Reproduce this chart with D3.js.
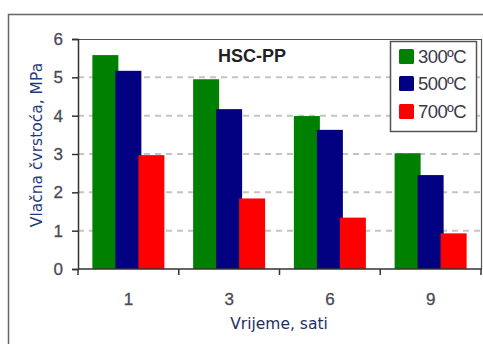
<!DOCTYPE html>
<html><head><meta charset="utf-8">
<script src="https://cdn.jsdelivr.net/npm/d3@7"></script>
<style>body{margin:0;background:#fff}svg{display:block}</style>
</head><body><svg id="c" width="483" height="344"></svg>
<script>
const categories = ["1", "3", "6", "9"];
const seriesNames = ["300ºC", "500ºC", "700ºC"];
const s300 = [5.58, 4.95, 3.99, 3.02];
const s500 = [5.17, 4.17, 3.63, 2.45];
const s700 = [2.97, 1.84, 1.34, 0.93];
const yTicks = [0, 1, 2, 3, 4, 5, 6];
const colors = ["#008000", "#000080", "#ff0000"];
const series = [s300, s500, s700];

const svg = d3.select("#c");
const m = {l: 78, t: 39, r: 481, b: 269};
const x = d3.scaleBand().domain(categories).range([m.l, m.r]).padding(0);
const y = d3.scaleLinear().domain([0, 6]).range([m.b, m.t]);

// outer frame
svg.append("rect").attr("x", 8.5).attr("y", 14.5).attr("width", 500).attr("height", 400)
  .attr("fill", "none").attr("stroke", "#666").attr("stroke-width", 1.5);

// gridlines
svg.append("g").selectAll("line").data(yTicks.filter(d => d > 0 && d < 6)).join("line")
  .attr("x1", m.l).attr("x2", m.r).attr("y1", d => y(d)).attr("y2", d => y(d))
  .attr("stroke", "#c4c4c4").attr("stroke-width", 2).attr("stroke-dasharray", "6,5");

// plot border top/right
svg.append("path").attr("d", `M${m.l},${m.t+0.5}H${m.r+0.5}V${m.b}`)
  .attr("fill", "none").attr("stroke", "#555").attr("stroke-width", 1.2);

// bars
const step = 23, bw = 26;
series.forEach((s, i) => {
  svg.append("g").selectAll("rect").data(s).join("rect")
    .attr("x", (d, j) => x(categories[j]) + x.bandwidth()/2 + (i-1)*step - bw/2)
    .attr("width", bw)
    .attr("y", d => y(d)).attr("height", d => y(0) - y(d))
    .attr("fill", colors[i]);
});

// y axis
const ya = d3.axisLeft(y).tickValues(yTicks).tickSize(6).tickPadding(9).tickFormat(d3.format("d"));
const gy = svg.append("g").attr("transform", `translate(${m.l},0)`).call(ya);
gy.select(".domain").attr("stroke", "#333").attr("stroke-width", 1.5);
gy.selectAll(".tick line").attr("stroke", "#333").attr("stroke-width", 1.5);
gy.selectAll("text").attr("font-family", "Liberation Sans, Arial, sans-serif").attr("font-size", 17)
  .attr("fill", "#4a4a58").attr("stroke", "#4a4a58").attr("stroke-width", 0.3);

// x axis
const xa = d3.axisBottom(x).tickSize(0).tickPadding(0);
const gx = svg.append("g").attr("transform", `translate(0,${m.b})`).call(xa);
gx.select(".domain").remove();
gx.append("line").attr("x1", m.l).attr("x2", m.r+1).attr("stroke", "#333").attr("stroke-width", 1.5);
gx.selectAll(".bound").data(d3.range(categories.length+1)).join("line")
  .attr("x1", d => m.l + d*x.bandwidth()).attr("x2", d => m.l + d*x.bandwidth())
  .attr("y1", 0).attr("y2", 6).attr("stroke", "#333").attr("stroke-width", 1.5);
gx.selectAll(".tick text").attr("dy", null).attr("y", 36)
  .attr("font-family", "Liberation Sans, Arial, sans-serif").attr("font-size", 17)
  .attr("fill", "#4a4a58").attr("stroke", "#4a4a58").attr("stroke-width", 0.3);

// axis titles
svg.append("text").attr("transform", "translate(42,145) rotate(-90)").attr("text-anchor", "middle")
  .attr("font-family", "DejaVu Sans, sans-serif").attr("font-size", 15.5).attr("fill", "#1f3a78")
  .text("Vlačna čvrstoća, MPa");
svg.append("text").attr("x", 279).attr("y", 329).attr("text-anchor", "middle")
  .attr("font-family", "DejaVu Sans, sans-serif").attr("font-size", 15.5).attr("fill", "#1f2f60")
  .text("Vrijeme, sati");

// chart title
svg.append("text").attr("x", 218).attr("y", 62)
  .attr("font-family", "Liberation Sans, Arial, sans-serif").attr("font-weight", "bold").attr("font-size", 18)
  .attr("fill", "#222").text("HSC-PP");

// legend
const lg = svg.append("g");
lg.append("rect").attr("x", 390.5).attr("y", 41.5).attr("width", 86).attr("height", 90)
  .attr("fill", "#fff").attr("stroke", "#555").attr("stroke-width", 1.5);
const rowY = [56, 83, 111];
seriesNames.forEach((n, i) => {
  lg.append("rect").attr("x", 399).attr("y", rowY[i]-7).attr("width", 15).attr("height", 15)
    .attr("rx", 1.5).attr("fill", colors[i]);
  lg.append("text").attr("x", 418).attr("y", rowY[i]+7)
    .attr("font-family", "Liberation Sans, Arial, sans-serif").attr("font-size", 18.5)
    .attr("letter-spacing", -0.6).attr("fill", "#3a3a48").text(n);
});
</script></body></html>
